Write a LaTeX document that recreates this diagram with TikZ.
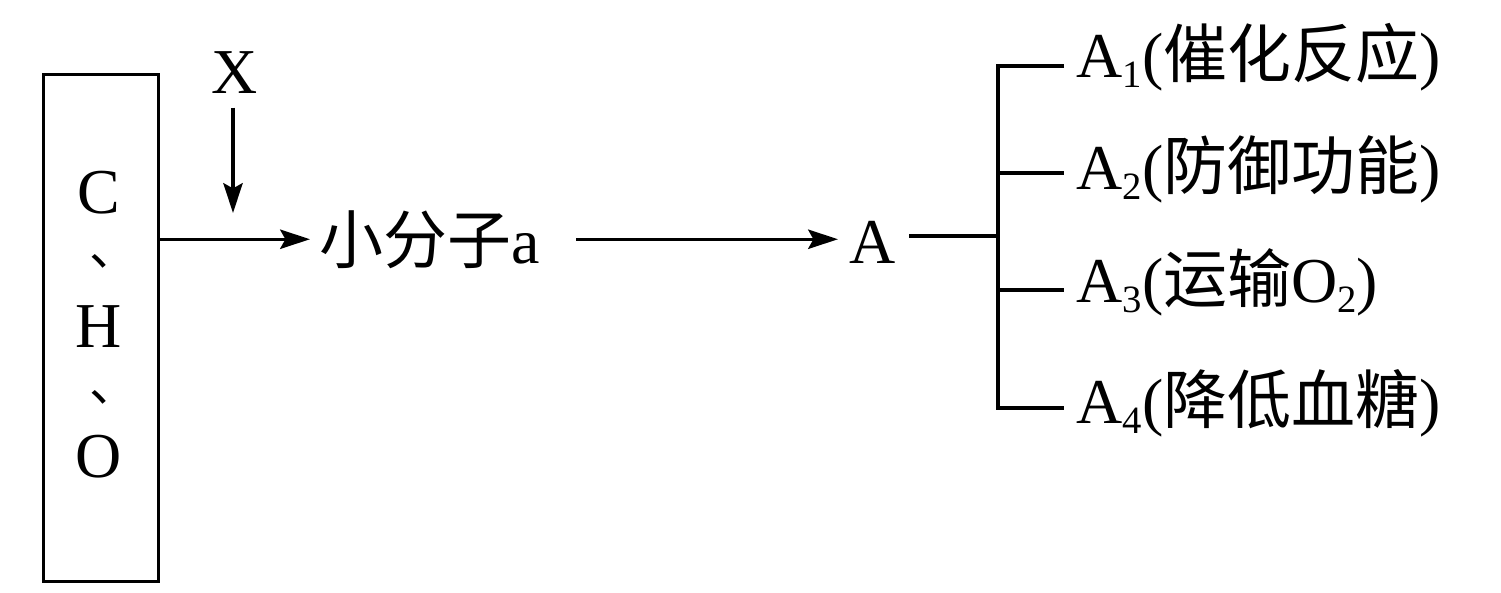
\documentclass[tikz,border=0pt]{standalone}
\usepackage{fontspec}
\setmainfont{Liberation Serif}
\newfontfamily\cjk{Noto Sans CJK SC}
\usetikzlibrary{arrows.meta,calc}
\newcommand\sbs[1]{\raisebox{-5.7pt}{\fontsize{22pt}{22pt}\selectfont #1}}
\begin{document}
\begin{tikzpicture}[x=0.02cm,y=-0.02cm,line width=1.8pt,
  every node/.style={inner sep=0pt,font=\fontsize{36.4pt}{40pt}\selectfont},
  comma/.style={anchor=base west,font=\fontsize{28pt}{30pt}\selectfont\cjk},
  arr/.style={-{Stealth[length=17pt,width=11pt,inset=3pt]}}]
\useasboundingbox (0,0) rectangle (1501,592);
% box with elements
\node (box) [draw,anchor=north west,minimum width=2.3cm,minimum height=10.14cm] at (42,73) {};
\node[anchor=base] (c) at (99,213) {C};
\node[comma] (d1) at (88,265) {、};
\node[anchor=base] (h) at (99,347) {H};
\node[comma] (d2) at (88,401) {、};
\node[anchor=base] (o) at (99,477) {O};
% X
\node[anchor=base] (X) at (235,93) {X};
\coordinate (xt) at (233,213);
\draw[arr] ($(X.south)+(-2,13)$) -- (xt);
% main row
\node[anchor=base west] (small) at (318,263) {{\cjk 小分子}a};
\node[anchor=base west] (A) at (848,263) {A};
\draw[arr,shorten >=0.16cm] (box.east |- small.west) -- (small.west);
\draw[arr,shorten <=0.7cm,shorten >=0.2cm] (small.east) -- (small.east -| A.west);
% branches
\node[anchor=base west] (b1) at (1075,77) {A\sbs{1}({\cjk 催化反应})};
\node[anchor=base west] (b2) at (1075,189) {A\sbs{2}({\cjk 防御功能})};
\node[anchor=base west] (b3) at (1075,302) {A\sbs{3}({\cjk 运输}O\sbs{2})};
\node[anchor=base west] (b4) at (1075,423) {A\sbs{4}({\cjk 降低血糖})};
\coordinate (j) at (998,236);
\coordinate (t1) at (998,66);
\coordinate (t2) at (998,173);
\coordinate (t3) at (998,290);
\coordinate (t4) at (998,408);
\draw[shorten <=0.24cm] (A.east |- j) -- (j);
\draw[shorten <=0.22cm,shorten >=0.22cm] (b1.west |- t1) -- (t1) -- (t4) -- (b4.west |- t4);
\draw[shorten >=0.22cm] (t2) -- (b2.west |- t2);
\draw[shorten >=0.22cm] (t3) -- (b3.west |- t3);
\end{tikzpicture}
\end{document}
